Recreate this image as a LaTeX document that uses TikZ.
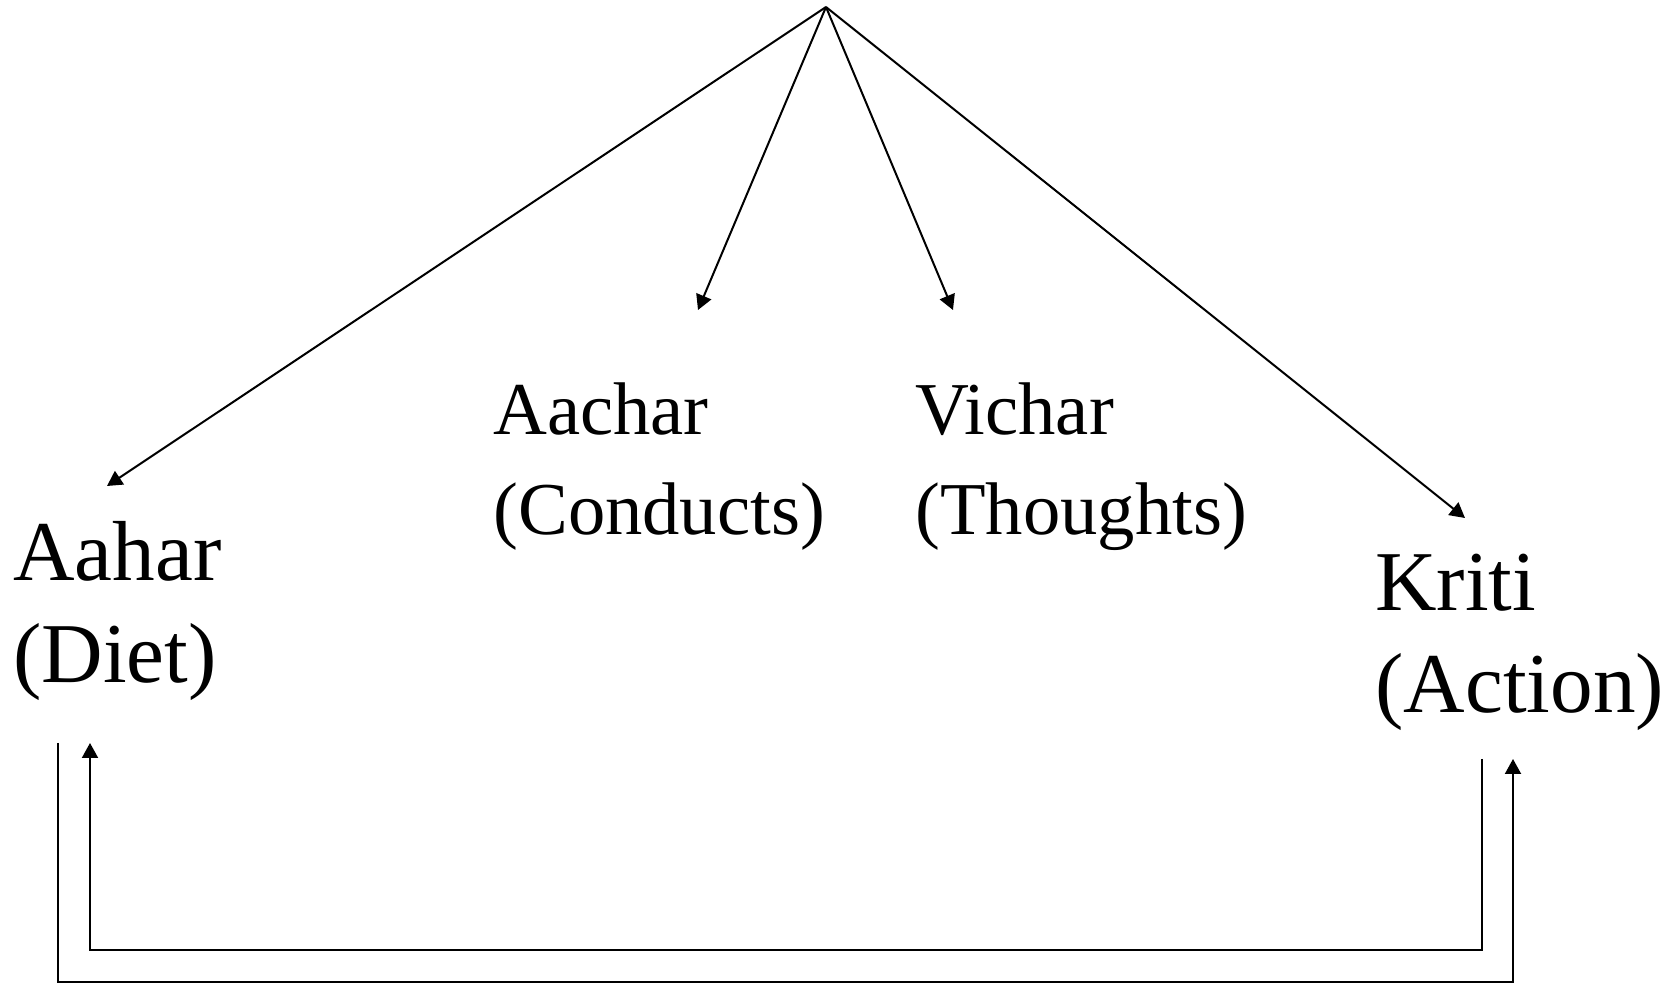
\documentclass[tikz,border=0pt]{standalone}
\usepackage{fontspec}
\setmainfont{Liberation Serif}
\usetikzlibrary{arrows.meta}
\begin{document}
\begin{tikzpicture}[x=0.5pt,y=-0.5pt,
  link/.style={line width=1pt,-{Triangle[length=7.5pt,width=8pt]}},
  bigtxt/.style={inner sep=0pt,anchor=base west,align=left,font=\fontsize{42.6pt}{51pt}\selectfont},
  midtxt/.style={inner sep=0pt,anchor=base west,align=left,font=\fontsize{37.3pt}{50pt}\selectfont}]
\useasboundingbox (0,0) rectangle (1678,983);
\node[bigtxt] (aahar) at (13,683) {Aahar\\(Diet)};
\node[midtxt] (aachar) at (493,535) {Aachar\\(Conducts)};
\node[midtxt] (vichar) at (915,535) {Vichar\\(Thoughts)};
\node[bigtxt] (kriti) at (1375,713) {Kriti\\(Action)};
\coordinate (apex) at (826,7);
\coordinate (ta) at (107,486);
\coordinate (tb) at (698,310);
\coordinate (tc) at (953,310);
\coordinate (td) at (1465,518);
\draw[link] (apex) -- (ta);
\draw[link] (apex) -- (tb);
\draw[link] (apex) -- (tc);
\draw[link] (apex) -- (td);
% inner loop
\coordinate (ri) at (1482,759);
\coordinate (li) at (90,743);
\draw[link] (ri) -- (1482,950) -- (90,950) -- (li);
% outer loop
\coordinate (lo) at (58,743);
\coordinate (ro) at (1513,759);
\draw[link] (lo) -- (58,982) -- (1513,982) -- (ro);
\end{tikzpicture}
\end{document}
